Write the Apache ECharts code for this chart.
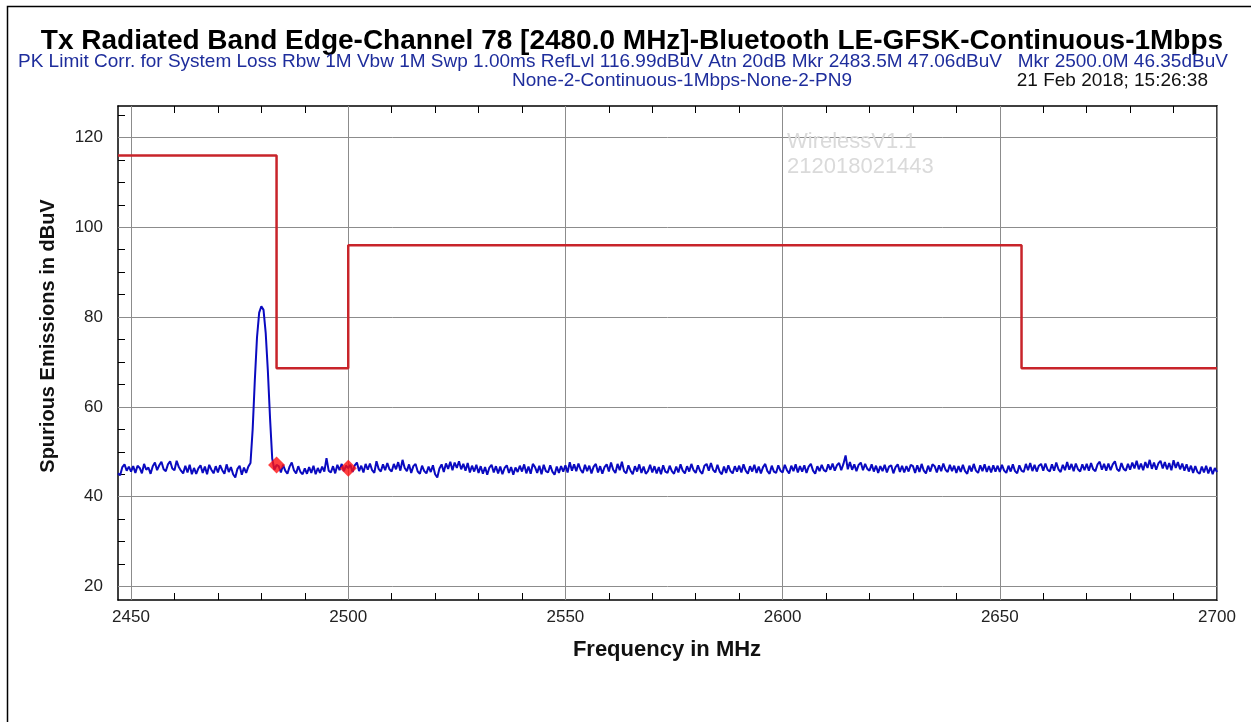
<!DOCTYPE html>
<html><head><meta charset="utf-8">
<script src="https://cdn.jsdelivr.net/npm/echarts@6/dist/echarts.min.js"></script>
<style>html,body{margin:0;padding:0;background:#fff}#c{width:1251px;height:722px}</style>
</head><body><div id="c"></div>
<script>
const titleText = 'Tx Radiated Band Edge-Channel 78 [2480.0 MHz]-Bluetooth LE-GFSK-Continuous-1Mbps';
const subtitle1 = 'PK Limit Corr. for System Loss Rbw 1M Vbw 1M Swp 1.00ms RefLvl 116.99dBuV Atn 20dB Mkr 2483.5M 47.06dBuV   Mkr 2500.0M 46.35dBuV';
const subtitle2 = 'None-2-Continuous-1Mbps-None-2-PN9';
const dateText = '21 Feb 2018; 15:26:38';
const watermark1 = 'WirelessV1.1';
const watermark2 = '212018021443';
const xAxisTitle = 'Frequency in MHz';
const yAxisTitle = 'Spurious Emissions in dBuV';

const xMin = 2447, xMax = 2700;
const yMin = 17, yMax = 127;
const xTickLabels = [2450, 2500, 2550, 2600, 2650, 2700];
const xMinorTicks = [2450,2460,2470,2480,2490,2500,2510,2520,2530,2540,2550,2560,2570,2580,2590,2600,2610,2620,2630,2640,2650,2660,2670,2680,2690,2700];
const yTickLabels = [20, 40, 60, 80, 100, 120];
const yMinorTicks = [20,25,30,35,40,45,50,55,60,65,70,75,80,85,90,95,100,105,110,115,120,125];

const limitFreq  = [2447, 2483.5, 2483.5, 2500, 2500, 2655, 2655, 2700];
const limitLevel = [116, 116, 68.6, 68.6, 96, 96, 68.6, 68.6];

const markerFreq  = [2483.5, 2500.0];
const markerLevel = [47.06, 46.35];

const traceStartMHz = 2447;
const traceStepMHz = 0.5;
const traceLevel = [
  45.2, 44.8, 46.6, 47.2, 45.8, 46.7,
  45.6, 46.8, 45.3, 46.9, 46.4, 45.2, 47.3, 46.0, 46.5, 45.1, 46.8, 47.6, 45.9, 47.0, 47.8, 46.1, 45.7, 47.2, 47.9, 46.3,
  45.9, 48.0, 46.6, 45.8, 45.2, 46.9, 45.4, 47.1, 45.0, 46.4, 45.1, 46.3, 47.0, 45.3, 46.7, 45.0, 47.1, 46.0, 45.2, 46.8,
  45.4, 47.0, 45.9, 45.1, 47.2, 45.5, 46.6, 45.0, 44.3, 46.2, 46.9, 44.9, 46.5, 45.3, 46.7, 47.5, 55.0, 66.0, 75.5, 81.0,
  82.4, 81.6, 76.5, 68.0, 57.5, 48.5, 46.0, 47.06, 46.8, 45.4, 47.1, 45.8, 45.1, 46.7, 47.6, 45.9, 45.2, 46.8, 45.5, 45.0,
  46.3, 45.1, 46.6, 45.3, 46.9, 45.0, 46.4, 45.3, 46.7, 45.6, 48.6, 45.8, 45.4, 46.8, 45.2, 47.1, 45.9, 47.3, 45.7, 46.9,
  46.35, 47.1, 45.5, 47.0, 47.6, 45.7, 46.9, 45.4, 47.3, 46.0, 47.4, 45.9, 45.3, 47.9, 46.2, 45.6, 47.2, 45.9, 47.5, 46.1,
  45.6, 47.3, 46.1, 47.7, 45.8, 48.2, 46.4, 45.7, 47.2, 45.3, 46.8, 47.3, 45.6, 45.1, 46.9, 45.7, 45.2, 46.7, 45.5, 47.0,
  45.0, 44.3, 46.3, 47.2, 45.5, 47.4, 46.2, 47.8, 45.9, 47.6, 46.4, 47.9, 46.1, 47.3, 45.8, 47.5, 45.4, 46.9, 45.6, 47.1,
  45.3, 46.8, 45.1, 46.6, 44.9, 46.5, 47.1, 45.4, 46.8, 45.2, 46.7, 45.0, 46.4, 47.0, 45.3, 46.6, 44.9, 46.5, 45.5, 46.9,
  45.6, 47.2, 45.2, 46.7, 45.1, 47.3, 46.6, 45.3, 46.9, 45.0, 47.1, 45.7, 45.4, 47.0, 45.6, 44.9, 46.7, 45.3, 46.8, 45.6,
  47.0, 45.4, 47.7, 45.8, 47.2, 45.7, 47.4, 46.0, 45.3, 47.1, 45.7, 46.9, 45.2, 46.7, 47.3, 45.4, 46.8, 45.1, 46.6, 47.2,
  45.6, 47.6, 46.0, 45.3, 47.3, 45.9, 47.8, 45.7, 45.2, 47.0, 45.8, 45.0, 46.8, 45.6, 47.2, 45.3, 46.7, 45.1, 45.7, 47.1,
  45.4, 46.8, 45.2, 46.6, 45.0, 47.0, 45.6, 45.3, 46.9, 45.7, 45.1, 46.7, 45.4, 47.2, 45.8, 45.2, 46.8, 45.6, 47.3, 45.9,
  45.3, 47.0, 45.7, 45.1, 46.9, 47.3, 45.8, 47.5, 46.0, 45.4, 47.1, 45.6, 45.0, 46.7, 45.3, 47.0, 45.7, 45.2, 46.8, 45.6,
  46.9, 45.4, 47.2, 45.8, 45.1, 46.8, 45.6, 47.1, 45.3, 46.7, 45.2, 46.6, 47.3, 45.7, 45.1, 46.9, 45.6, 45.3, 47.0, 45.8,
  45.4, 47.1, 45.9, 45.2, 46.9, 45.7, 47.2, 45.4, 46.8, 45.6, 47.0, 45.3, 46.7, 47.3, 45.8, 45.1, 46.8, 45.7, 47.1, 45.9,
  45.6, 47.2, 46.0, 47.4, 45.8, 47.0, 47.5, 45.9, 47.3, 49.2, 46.1, 47.7, 46.0, 47.2, 45.7, 47.1, 47.6, 45.9, 47.3, 46.2,
  45.8, 47.2, 45.6, 46.9, 45.3, 46.8, 45.7, 47.1, 45.4, 46.7, 47.0, 45.2, 46.6, 47.2, 45.5, 46.9, 45.4, 46.8, 45.6, 47.1,
  46.8, 45.3, 47.0, 45.5, 47.3, 45.8, 45.2, 46.9, 45.6, 47.2, 46.8, 45.4, 47.0, 45.7, 47.4, 46.0, 45.5, 47.1, 45.7, 46.9,
  45.3, 46.8, 45.5, 47.1, 45.7, 45.1, 46.9, 45.6, 47.3, 45.8, 45.3, 47.0, 45.7, 47.2, 45.5, 46.8, 45.4, 47.0, 45.6, 46.9,
  45.5, 47.1, 45.8, 45.3, 46.9, 45.6, 47.2, 45.7, 45.2, 47.0, 45.8, 45.5, 47.3, 45.9, 47.5, 45.7, 47.1, 45.6, 46.9, 47.3,
  45.8, 47.4, 46.0, 45.6, 47.2, 45.8, 47.6, 46.1, 45.5, 47.1, 45.9, 47.7, 46.0, 47.3, 45.7, 47.4, 46.1, 45.6, 47.2, 45.9,
  47.3, 45.8, 47.5, 46.1, 45.7, 47.2, 47.8, 46.0, 47.3, 45.8, 47.4, 45.9, 47.2, 47.9, 46.1, 45.7, 47.5, 46.2, 45.8, 47.3,
  46.0, 47.6, 46.3, 48.0, 46.1, 47.4, 45.9, 47.7, 46.4, 48.2, 46.2, 47.6, 46.0, 47.4, 48.0, 46.3, 47.7, 46.1, 47.5, 45.9,
  48.1, 46.4, 47.7, 46.1, 47.4, 45.8, 47.2, 45.6, 46.9, 45.3, 46.8, 45.5, 45.1, 46.7, 45.4, 46.9, 45.2, 46.6, 45.0, 46.4,
  45.5
];

const FONT = "'Liberation Sans', Arial, sans-serif";

const traceData = traceLevel.map((v, i) => [traceStartMHz + i * traceStepMHz, v]);
const limitData = limitFreq.map((f, i) => [f, limitLevel[i]]);
const markerData = markerFreq.map((f, i) => [f, markerLevel[i]]);
const gridLines = xTickLabels.map(v => ({ xAxis: v })).concat(yTickLabels.map(v => ({ yAxis: v })));

function txt(x, y, text, o) {
  return {
    type: 'text', x: x, y: y, rotation: o.rotation || 0, z: 10, silent: true,
    style: {
      text: text, fill: o.color || '#000',
      fontSize: o.size, fontWeight: o.weight || 'normal', fontFamily: FONT,
      align: o.align || 'left', verticalAlign: 'middle',
      textAlign: o.align || 'left', textVerticalAlign: 'middle'
    }
  };
}

const chart = echarts.init(document.getElementById('c'), null, { renderer: 'canvas' });
chart.setOption({
  animation: false,
  backgroundColor: '#ffffff',
  grid: { left: 118, right: 34, top: 106, bottom: 122, show: false },
  graphic: [
    { type: 'polyline', z: 10, silent: true, shape: { points: [[7.5, 722], [7.5, 6.5], [1251, 6.5]] }, style: { stroke: '#000', lineWidth: 1.5, fill: null } },
    txt(632, 41, titleText, { size: 28, weight: 'bold', align: 'center' }),
    txt(18, 62, subtitle1, { size: 19, color: '#1e2d9c' }),
    txt(682, 81, subtitle2, { size: 19, color: '#1e2d9c', align: 'center' }),
    txt(1208, 81, dateText, { size: 19, color: '#111', align: 'right' }),
    txt(787, 142, watermark1, { size: 22, color: '#dadada' }),
    txt(787, 167, watermark2, { size: 22, color: '#dadada' }),
    txt(667, 650, xAxisTitle, { size: 22, weight: 'bold', color: '#111', align: 'center' }),
    txt(48, 336, yAxisTitle, { size: 20, weight: 'bold', color: '#111', align: 'center', rotation: Math.PI / 2 })
  ],
  xAxis: [
    {
      type: 'value', min: xMin, max: xMax, position: 'bottom',
      axisLine: { show: true, onZero: false, lineStyle: { color: '#000', width: 1.5 } },
      axisTick: { show: true, inside: true, length: 7, customValues: xMinorTicks, lineStyle: { color: '#000', width: 1 } },
      axisLabel: { show: true, customValues: xTickLabels, margin: 9, fontSize: 17, fontFamily: FONT, color: '#222', formatter: v => String(v) },
      splitLine: { show: false }, minorTick: { show: false }
    },
    {
      type: 'value', min: xMin, max: xMax, position: 'top',
      axisLine: { show: true, onZero: false, lineStyle: { color: '#000', width: 1.5 } },
      axisTick: { show: true, inside: true, length: 7, customValues: xMinorTicks, lineStyle: { color: '#000', width: 1 } },
      axisLabel: { show: false }, splitLine: { show: false }
    }
  ],
  yAxis: [
    {
      type: 'value', min: yMin, max: yMax, position: 'left',
      axisLine: { show: true, onZero: false, lineStyle: { color: '#000', width: 1.5 } },
      axisTick: { show: true, inside: true, length: 7, customValues: yMinorTicks, lineStyle: { color: '#000', width: 1 } },
      axisLabel: { show: true, customValues: yTickLabels, margin: 15, fontSize: 17, fontFamily: FONT, color: '#222', formatter: v => String(v) },
      splitLine: { show: false }
    },
    {
      type: 'value', min: yMin, max: yMax, position: 'right',
      axisLine: { show: true, onZero: false, lineStyle: { color: '#000', width: 1.5 } },
      axisTick: { show: false }, axisLabel: { show: false }, splitLine: { show: false }
    }
  ],
  series: [
    {
      name: 'grid', type: 'line', data: [], z: 1, silent: true,
      markLine: {
        z: 1, silent: true, symbol: ['none', 'none'], animation: false,
        label: { show: false },
        lineStyle: { color: '#8c8c8c', width: 1, type: 'solid' },
        emphasis: { disabled: true },
        data: gridLines
      }
    },
    {
      name: 'Limit', type: 'line', data: limitData, z: 6, symbol: 'none', silent: true,
      lineStyle: { color: '#c8242a', width: 2.5 }
    },
    {
      name: 'Trace', type: 'line', data: traceData, z: 7, symbol: 'none', silent: true,
      lineStyle: { color: '#0a0ac0', width: 2 }
    },
    {
      name: 'Markers', type: 'scatter', data: markerData, z: 8, symbol: 'diamond', symbolSize: 17, silent: true,
      itemStyle: { color: '#ff1010' }
    }
  ]
});
</script>
</body></html>
